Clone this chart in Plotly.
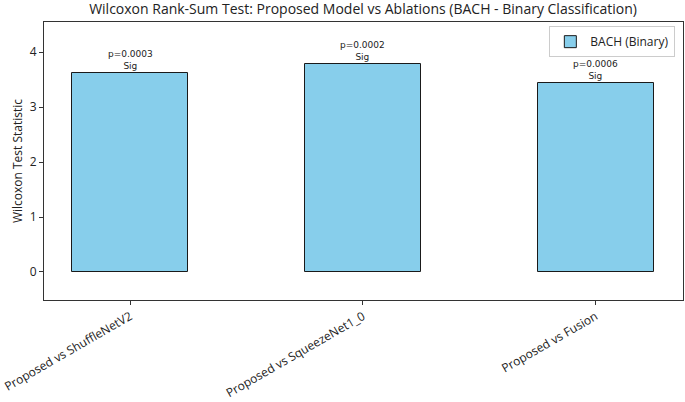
import plotly.graph_objects as go

categories = ["Proposed vs ShuffleNetV2", "Proposed vs SqueezeNet1_0", "Proposed vs Fusion"]
statistics = [3.62, 3.78, 3.44]
p_values = ["p=0.0003", "p=0.0002", "p=0.0006"]
sig_labels = ["Sig", "Sig", "Sig"]

x_pos = list(range(len(categories)))

fig = go.Figure()
fig.add_trace(go.Bar(
    x=x_pos, y=statistics, width=0.5,
    marker=dict(color="#87CEEB", line=dict(color="#1a1a1a", width=1)),
    name="BACH (Binary)", showlegend=True,
))

for xi, v, p, s in zip(x_pos, statistics, p_values, sig_labels):
    fig.add_annotation(x=xi, y=v, text=f"{p}<br>{s}", showarrow=False,
                       yanchor="bottom", yshift=0,
                       font=dict(size=9, color="#222", family="DejaVu Sans"))

fig.update_layout(
    width=685, height=402,
    margin=dict(l=44, r=2, t=22, b=102, autoexpand=False),
    paper_bgcolor="white", plot_bgcolor="white",
    font=dict(family="Open Sans", color="#222"),
    title=dict(text="Wilcoxon Rank-Sum Test: Proposed Model vs Ablations (BACH - Binary Classification)",
               x=0.53, xanchor="center", y=0.978, yanchor="middle",
               font=dict(size=14, color="#222")),
    legend=dict(x=0.988, y=0.985, xanchor="right", yanchor="top",
                bordercolor="#cccccc", borderwidth=1, bgcolor="white",
                font=dict(size=12)),
    bargap=0,
)
fig.update_xaxes(
    range=[-0.37, 2.375], tickvals=x_pos, ticktext=categories, tickangle=-30,
    showline=True, linecolor="#333", mirror=True, ticks="outside", ticklen=4,
    tickcolor="#333", showgrid=False, zeroline=False, tickfont=dict(size=12),
    automargin=False,
)
fig.update_yaxes(
    range=[-0.51, 4.55], tickvals=[0, 1, 2, 3, 4],
    showline=True, linecolor="#333", mirror=True, ticks="outside", ticklen=4,
    tickcolor="#333", showgrid=False, zeroline=False, tickfont=dict(size=12),
    title=dict(text="Wilcoxon Test Statistic", font=dict(size=12), standoff=4),
    automargin=False,
)

fig.write_html("out.html", config={"displayModeBar": False},
               post_script="document.body.style.margin='0px';")
